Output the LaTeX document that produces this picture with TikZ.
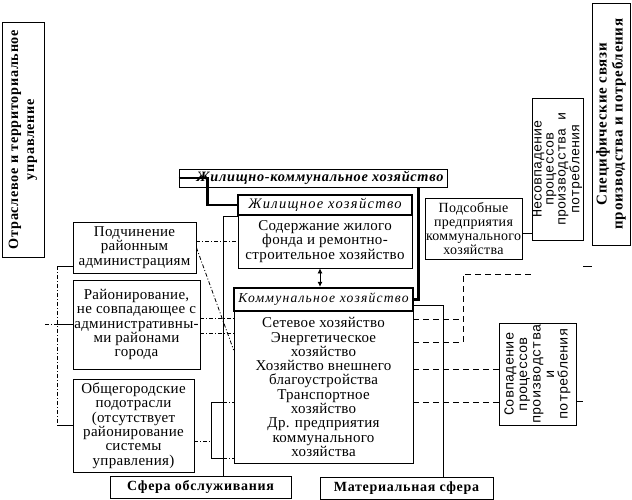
\documentclass[tikz,border=0pt]{standalone}
\usepackage{fontspec}
\setmainfont{Liberation Serif}
\newfontfamily\spf[LetterSpace=2]{Liberation Serif}
\newfontfamily\spw[LetterSpace=5]{Liberation Serif}
\newfontfamily\spi[LetterSpace=9]{Liberation Serif}
\newfontfamily\monof{Liberation Mono}
\usetikzlibrary{arrows.meta}
\tikzset{
  box/.style={draw, line width=0.8pt, inner sep=0.5pt, align=center,
    font=\spf\fontsize{15}{14.3}\selectfont},
  hdr/.style={draw, line width=2.4pt, inner sep=0.5pt, align=center,
    font=\spi\itshape\fontsize{14.5}{15}\selectfont},
  bbox/.style={draw, line width=0.8pt, inner sep=1pt, align=center,
    font=\spw\bfseries\fontsize{14}{15}\selectfont},
  rbox/.style={draw, line width=0.8pt, inner sep=0.5pt, align=center,
    font=\spw\bfseries\fontsize{14.2}{16}\selectfont},
  mbox/.style={draw, line width=0.8pt, inner sep=0.5pt, align=center,
    font=\monof\fontsize{13.8}{13.5}\selectfont},
  thin/.style={line width=0.8pt},
  thickl/.style={line width=2.4pt},
  dd/.style={line width=0.8pt, dash pattern=on 4pt off 2pt on 1pt off 2pt},
  dsh/.style={line width=0.8pt, dash pattern=on 6pt off 4pt},
}
\begin{document}
\begin{tikzpicture}[x=1pt,y=-1pt]
\useasboundingbox (0,0) rectangle (632,500);
% rotated boxes
\node[rbox, rotate=90, minimum width=235, minimum height=42] (otr) at (23,139.5)
  {Отраслевое и территориальное\\управление};
\node[rbox, rotate=90, minimum width=242, minimum height=38,
  font=\spw\bfseries\fontsize{15}{16}\selectfont] (spec) at (611,124)
  {Специфические связи\\производства и потребления};
\node[mbox, rotate=90, minimum width=142, minimum height=51,
  font=\monof\fontsize{13.5}{12}\selectfont] (nes) at (557.5,169)
  {Несовпадение\\процессов\\производства и\\потребления};
\node[mbox, rotate=90, minimum width=102, minimum height=77] (sovp) at (537.5,374)
  {Совпадение\\процессов\\производства\\и\\потребления};
% plain boxes
\node[box, minimum width=97, minimum height=61,
  font=\spf\fontsize{14}{14}\selectfont] (pods) at (473.5,228.5)
  {Подсобные\\предприятия\\коммунального\\хозяйства};
\node[box, minimum width=174, minimum height=53] (sod) at (325,241.5)
  {Содержание жилого\\фонда и ремонтно-\\строительное хозяйство};
\node[box, minimum width=179, minimum height=152] (komc) at (323.5,387)
  {Сетевое хозяйство\\Энергетическое\\хозяйство\\Хозяйство внешнего\\благоустройства\\Транспортное\\хозяйство\\Др. предприятия\\коммунального\\хозяйства};
\node[box, minimum width=123, minimum height=51] (pod) at (134.5,247.5)
  {Подчинение\\районным\\администрациям};
\node[box, minimum width=127, minimum height=89] (ray) at (136.5,324.5)
  {Районирование,\\не совпадающее с\\административны-\\ми районами\\города};
\node[box, minimum width=121, minimum height=93] (obsch) at (133.5,425.5)
  {Общегородские\\подотрасли\\(отсутствует\\районирование\\системы\\управления)};
\node[bbox, minimum width=181, minimum height=22] (sfo) at (200.5,487) {Сфера обслуживания};
\node[bbox, minimum width=173, minimum height=22] (mat) at (406.5,488) {Материальная сфера};
% header boxes
\node[draw, line width=0.8pt, inner sep=0.5pt, minimum width=268, minimum height=18,
  font=\spw\bfseries\itshape\fontsize{14.3}{14}\selectfont] (zhkh) at (313,178)
  {\hspace*{14pt}Жилищно-коммунальное хозяйство};
\node[hdr, minimum width=174, minimum height=20] (zhil) at (325,205) {Жилищное хозяйство};
\node[hdr, minimum width=179, minimum height=23,
  font=\spi\itshape\fontsize{13.6}{15}\selectfont] (kom) at (323.5,299.5) {Коммунальное хозяйство};
% thick connectors
\draw[thickl] (zhkh.west) -- ++(29,0) |- (zhil.west);
\draw[thickl] ([xshift=-29pt]zhkh.south east) |- (kom.east);
% double arrow
\draw[thin, {Latex[length=5pt,width=5pt]}-{Latex[length=5pt,width=5pt]}]
  ([xshift=-5pt]sod.south) -- ([xshift=-5pt]sod.south |- kom.north);
% service / material sphere verticals
\draw[thin] (sfo.north -| 223,0) |- ([yshift=-2pt]sod.north west);
\draw[thin] (mat.north -| 443,0) |- ([yshift=-5.5pt]kom.east);
% right dashed
\coordinate (dend) at (532,274);
\draw[dsh] (komc.east |- 0,342) -| (463,274) -- (dend);
\draw[dsh] (komc.east |- 0,319) -- (463,319);
\draw[dsh] (komc.east |- 0,369) -- (sovp.north |- 0,369);
\draw[dsh] (komc.east |- 0,402) -- (sovp.north |- 0,402);
\draw[thin] (sovp.south |- 0,401) -- ++(7,0);
\draw[thin] (nes.south |- 0,266) -- (spec.north |- 0,266);
\draw[thin] (pods.east |- 0,233) -- (nes.north |- 0,233);
% left side
\draw[thin] (pod.west |- 0,266) -- ++(-15,0) coordinate (lt);
\draw[dd] (lt) -- (lt |- obsch.west);
\draw[thin] (obsch.west) -- (lt |- obsch.west);
\draw[thin] (ray.west) -- (lt |- ray.west);
\coordinate (lstub) at (43,324.5);
\draw[dd] (lt |- ray.west) -- (lstub);
% left to centre
\draw[dd] (pod.east |- sod.west) -- (sod.west);
\draw[dd] (pod.east) -- (komc.west |- 0,350);
\draw[dd] (ray.east |- 0,318) -- (komc.west |- 0,318);
\draw[dd] (ray.east |- 0,333) -- (komc.west |- 0,333);
\draw[dd] (obsch.east |- 0,441) -- (211,441);
\draw[thin] (223,402) -| (211,458) -- (223,458);
\draw[dd] (223,402) -- (komc.west |- 0,402);
\draw[dd] (223,458) -- (komc.west |- 0,458);
\end{tikzpicture}
\end{document}
